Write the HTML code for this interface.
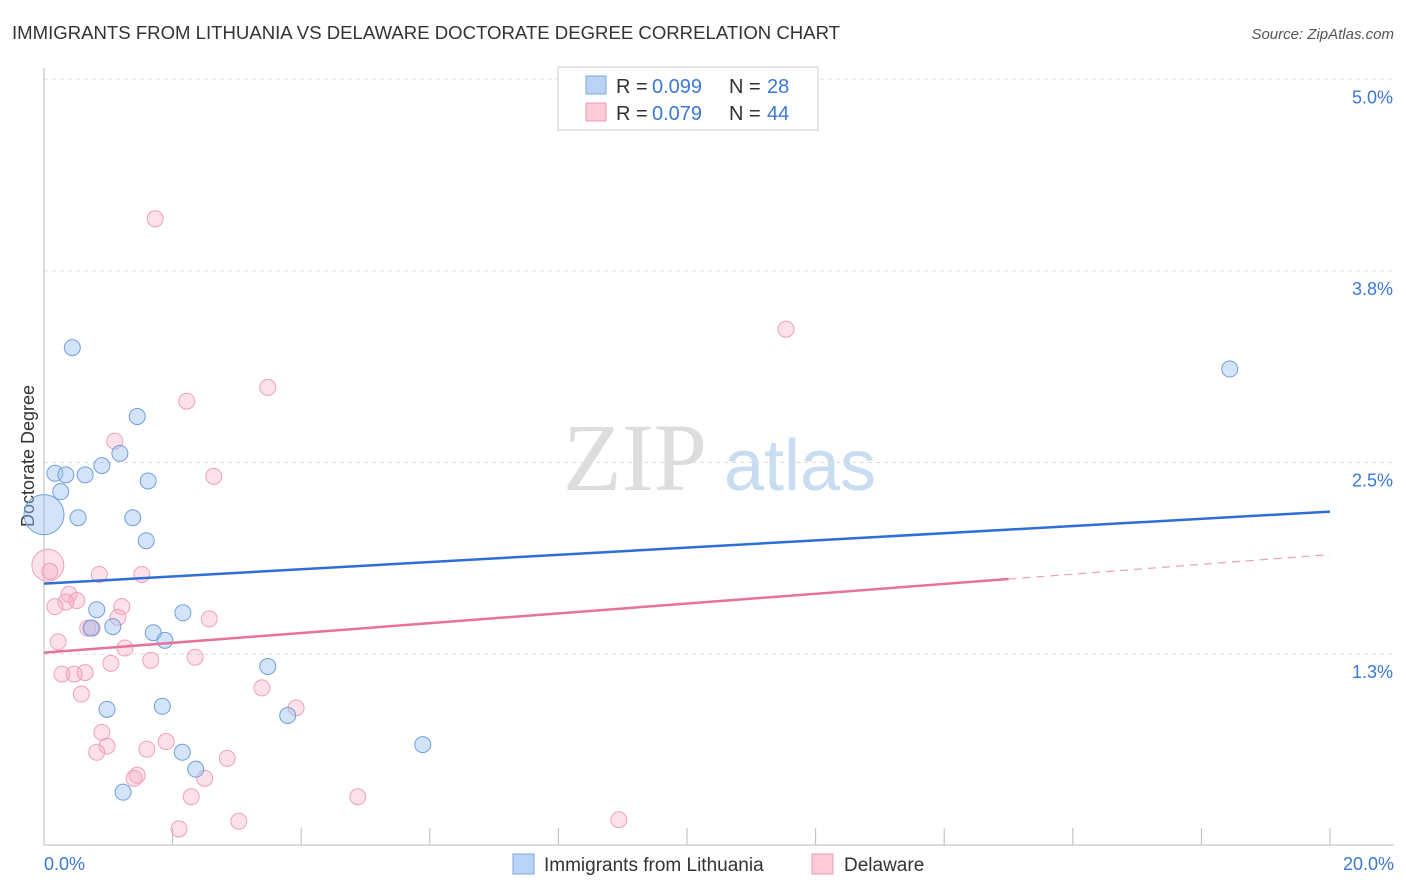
<!DOCTYPE html>
<html><head><meta charset="utf-8"><style>
body{margin:0;background:#fff;font-family:"Liberation Sans",sans-serif;}
svg{display:block}
</style></head><body>
<svg width="1406" height="892" viewBox="0 0 1406 892">
<text x="12" y="39" font-size="18" fill="#333" textLength="828" lengthAdjust="spacingAndGlyphs">IMMIGRANTS FROM LITHUANIA VS DELAWARE DOCTORATE DEGREE CORRELATION CHART</text>
<text x="1394" y="39" font-size="15" fill="#555" font-style="italic" text-anchor="end">Source: ZipAtlas.com</text>
<text x="0" y="0" transform="translate(34,456) rotate(-90)" font-size="18" fill="#333" text-anchor="middle">Doctorate Degree</text>
<g><text x="635" y="490" font-size="96" font-family="Liberation Serif,serif" fill="#ddd" text-anchor="middle">ZIP</text><text x="800" y="490" font-size="72" fill="#c8dcf2" text-anchor="middle">atlas</text></g>
<g id="grid"></g><g id="axes"></g><g id="marks"></g>
<g>
<rect x="558" y="67" width="260" height="63" fill="#fff" stroke="#ccc"/>
<rect x="586" y="76" width="20" height="18" fill="#b9d4f5" stroke="#7aa8e0"/>
<rect x="586" y="103" width="20" height="18" fill="#fbcbd8" stroke="#ee9ab2"/>
<text x="616" y="93" font-size="20" fill="#333">R =</text><text x="652" y="93" font-size="20" fill="#3a78d8">0.099</text>
<text x="729" y="93" font-size="20" fill="#333">N =</text><text x="767" y="93" font-size="20" fill="#3a78d8">28</text>
<text x="616" y="120" font-size="20" fill="#333">R =</text><text x="652" y="120" font-size="20" fill="#3a78d8">0.079</text>
<text x="729" y="120" font-size="20" fill="#333">N =</text><text x="767" y="120" font-size="20" fill="#3a78d8">44</text>
</g>
<g>
<rect x="513" y="854" width="21" height="20" fill="#b9d4f5" stroke="#7aa8e0"/>
<text x="544" y="871" font-size="19" fill="#333">Immigrants from Lithuania</text>
<rect x="812" y="854" width="21" height="20" fill="#fbcbd8" stroke="#ee9ab2"/>
<text x="844" y="871" font-size="19" fill="#333">Delaware</text>
</g>
</svg>
<script>
const yTicks=[5.0,3.75,2.5,1.25];
const yTickLabels=["5.0%","3.8%","2.5%","1.3%"];
const xTicks=[0,2,4,6,8,10,12,14,16,18,20];
const blueX=[0.44,0.17,0.34,0.64,0.26,0.90,1.18,1.45,1.62,0.53,1.38,1.59,0.82,1.07,0.73,1.70,1.88,2.16,3.48,0.98,1.84,2.15,2.36,1.23,3.79,5.89,18.44,0.0];
const blueY=[3.25,2.43,2.42,2.42,2.31,2.48,2.56,2.80,2.38,2.14,2.14,1.99,1.54,1.43,1.42,1.39,1.34,1.52,1.17,0.89,0.91,0.61,0.50,0.35,0.85,0.66,3.11,2.16];
const blueR=[8,8,8,8,8,8,8,8,8,8,8,8,8,8,8,8,8,8,8,8,8,8,8,8,8,8,8,20];
const pinkX=[1.73,11.54,3.48,2.22,1.10,2.64,0.06,0.09,0.86,1.52,0.39,0.51,0.34,0.17,1.21,1.15,2.57,0.68,0.75,0.22,1.26,1.04,1.66,2.35,0.28,0.47,0.64,0.58,3.39,0.90,0.98,0.82,1.60,1.90,2.85,3.92,1.45,1.40,2.50,2.29,4.88,2.10,3.03,8.94];
const pinkY=[4.09,3.37,2.99,2.90,2.64,2.41,1.83,1.79,1.77,1.77,1.64,1.60,1.59,1.56,1.56,1.49,1.48,1.42,1.42,1.33,1.29,1.19,1.21,1.23,1.12,1.12,1.13,0.99,1.03,0.74,0.65,0.61,0.63,0.68,0.57,0.90,0.46,0.44,0.44,0.32,0.32,0.11,0.16,0.17];
const pinkR=[8,8,8,8,8,8,16,8,8,8,8,8,8,8,8,8,8,8,8,8,8,8,8,8,8,8,8,8,8,8,8,8,8,8,8,8,8,8,8,8,8,8,8,8];
const blueTrend=[1.71,2.18];
const pinkTrend=[1.26,1.90];
const pinkSolidEnd=15.0;

const NS="http://www.w3.org/2000/svg";
const X=v=>44+v*64.3, Y=v=>845.8-v*153.3;
function mk(tag,attrs,parent){const e=document.createElementNS(NS,tag);for(const k in attrs)e.setAttribute(k,attrs[k]);document.getElementById(parent).appendChild(e);return e;}
yTicks.forEach((t,i)=>{
 const l=mk('line',{x1:44,x2:1394,y1:Y(t),y2:Y(t),stroke:'#ddd','stroke-dasharray':'4,4'},'grid');
 
 
 const tx=mk('text',{x:1393,y:Y(t)+24,'font-size':18,fill:'#3a78d8','text-anchor':'end'},'grid');
 tx.textContent=yTickLabels[i];
 
 
});
const ax=mk('line',{x1:44,x2:1394,y1:845,y2:845,stroke:'#bbb'},'axes');


const ay=mk('line',{x1:44,x2:44,y1:68,y2:845,stroke:'#bbb'},'axes');


xTicks.forEach(t=>{const l=mk('line',{x1:X(t),x2:X(t),y1:828,y2:845,stroke:'#bbb'},'axes');
 
 });
[[0,'0.0%','start',44],[20,'20.0%','end',1394]].forEach(a=>{const t=mk('text',{x:a[3],y:870,'font-size':18,fill:'#3a78d8','text-anchor':a[2]},'axes');t.textContent=a[1];
 
 });
pinkX.forEach((x,i)=>{const c=mk('circle',{cx:X(x),cy:Y(pinkY[i]),r:pinkR[i],fill:'rgba(247,170,195,0.35)',stroke:'#eea0b8','stroke-width':1},'marks');
 
 });
blueX.forEach((x,i)=>{const c=mk('circle',{cx:X(x),cy:Y(blueY[i]),r:blueR[i],fill:'rgba(160,195,240,0.45)',stroke:'#6f9fdc','stroke-width':1},'marks');
 
 });
const bl=mk('line',{x1:X(0),y1:Y(blueTrend[0]),x2:X(20),y2:Y(blueTrend[1]),stroke:'#2e6fd6','stroke-width':2.5},'marks');


const pm=pinkTrend[0]+(pinkTrend[1]-pinkTrend[0])*pinkSolidEnd/20;
const pl=mk('line',{x1:X(0),y1:Y(pinkTrend[0]),x2:X(pinkSolidEnd),y2:Y(pm),stroke:'#e8719a','stroke-width':2.5},'marks');


const pd=mk('line',{x1:X(pinkSolidEnd),y1:Y(pm),x2:X(20),y2:Y(pinkTrend[1]),stroke:'#e8a0b8','stroke-width':1.2,'stroke-dasharray':'8,6'},'marks');


</script>
</body></html>
